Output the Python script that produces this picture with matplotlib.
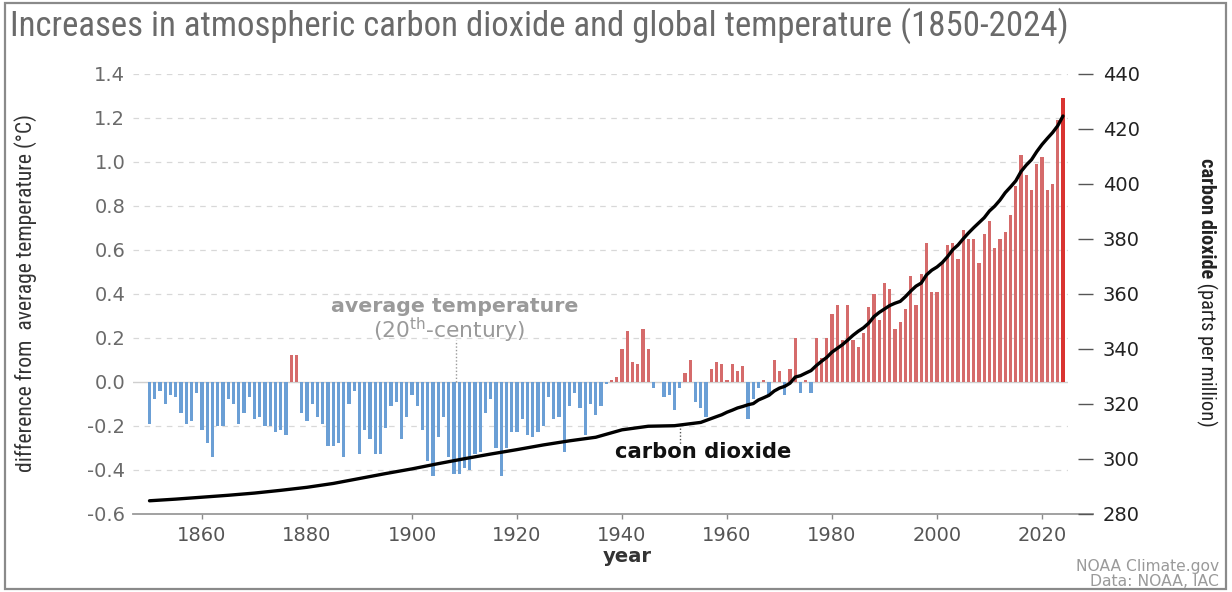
import matplotlib
matplotlib.use("Agg")
import matplotlib.pyplot as plt
from matplotlib import font_manager as fm
from matplotlib.lines import Line2D
from matplotlib.patches import Rectangle
import numpy as np

# ---------------- data ----------------
years = list(range(1850, 2025))
temp_anomaly = [
    -0.19, -0.08, -0.04, -0.10, -0.06, -0.07, -0.14, -0.19, -0.18, -0.05,   # 1850s
    -0.22, -0.28, -0.34, -0.20, -0.20, -0.08, -0.10, -0.19, -0.14, -0.07,   # 1860s
    -0.17, -0.16, -0.20, -0.20, -0.23, -0.22, -0.24, 0.12, 0.12, -0.14,     # 1870s
    -0.18, -0.10, -0.16, -0.19, -0.29, -0.29, -0.28, -0.34, -0.10, -0.04,   # 1880s
    -0.33, -0.22, -0.26, -0.33, -0.33, -0.21, -0.11, -0.09, -0.26, -0.16,   # 1890s
    -0.06, -0.11, -0.22, -0.36, -0.43, -0.25, -0.16, -0.34, -0.42, -0.42,   # 1900s
    -0.39, -0.40, -0.33, -0.32, -0.14, -0.08, -0.30, -0.43, -0.30, -0.23,   # 1910s
    -0.23, -0.17, -0.24, -0.25, -0.23, -0.20, -0.07, -0.17, -0.16, -0.32,   # 1920s
    -0.11, -0.05, -0.12, -0.24, -0.10, -0.15, -0.11, -0.01, 0.01, 0.02,     # 1930s
    0.15, 0.23, 0.09, 0.08, 0.24, 0.15, -0.03, 0.00, -0.07, -0.06,          # 1940s
    -0.13, -0.03, 0.04, 0.10, -0.09, -0.12, -0.16, 0.06, 0.09, 0.08,        # 1950s
    0.01, 0.08, 0.05, 0.07, -0.17, -0.08, -0.03, 0.01, -0.06, 0.10,         # 1960s
    0.05, -0.06, 0.06, 0.20, -0.05, 0.01, -0.05, 0.20, 0.11, 0.20,          # 1970s
    0.31, 0.35, 0.19, 0.35, 0.19, 0.16, 0.22, 0.34, 0.40, 0.28,             # 1980s
    0.45, 0.42, 0.24, 0.27, 0.33, 0.48, 0.35, 0.49, 0.63, 0.41,             # 1990s
    0.41, 0.54, 0.62, 0.63, 0.56, 0.69, 0.65, 0.65, 0.54, 0.67,             # 2000s
    0.73, 0.61, 0.65, 0.68, 0.76, 0.89, 1.03, 0.94, 0.87, 0.99,             # 2010s
    1.02, 0.87, 0.90, 1.19, 1.29,                                           # 2020-2024
]

co2_years = [1850, 1855, 1860, 1865, 1870, 1875, 1880, 1885, 1890, 1895,
             1900, 1905, 1910, 1915, 1920, 1925, 1930, 1935, 1940, 1945,
             1950, 1955, 1958] + list(range(1959, 2025))
co2_ppm = [284.7, 285.3, 286.0, 286.7, 287.5, 288.5, 289.6, 291.0, 292.8, 294.6,
           296.3, 298.2, 300.0, 301.7, 303.3, 305.0, 306.5, 307.8, 310.5, 311.8,
           312.0, 313.2, 315.3,
           315.98, 316.91, 317.64, 318.45, 318.99, 319.62, 320.04, 321.37, 322.18, 323.05,
           324.62, 325.68, 326.32, 327.46, 329.68, 330.19, 331.13, 332.03, 333.84, 335.41,
           336.84, 338.76, 340.12, 341.48, 343.15, 344.87, 346.35, 347.61, 349.31, 351.69,
           353.20, 354.45, 355.70, 356.54, 357.21, 358.96, 360.97, 362.74, 363.88, 366.84,
           368.54, 369.71, 371.32, 373.45, 375.98, 377.70, 379.98, 382.09, 384.02, 385.83,
           387.64, 390.10, 391.85, 394.06, 396.74, 398.81, 401.01, 404.41, 406.76, 408.72,
           411.66, 414.24, 416.45, 418.56, 421.08, 424.61]

temp_ticks = [-0.6, -0.4, -0.2, 0.0, 0.2, 0.4, 0.6, 0.8, 1.0, 1.2, 1.4]
co2_ticks = [280, 300, 320, 340, 360, 380, 400, 420, 440]
year_ticks = [1860, 1880, 1900, 1920, 1940, 1960, 1980, 2000, 2020]

title_text = "Increases in atmospheric carbon dioxide and global temperature (1850-2024)"
left_label = "difference from  average temperature (\u00b0C)"
right_label_bold = "carbon dioxide"
right_label_reg = " (parts per million)"
avg_label = "average temperature"
avg_sub = r"(20$^{\mathrm{th}}$-century)"
co2_label = "carbon dioxide"
x_label = "year"
credit1 = "NOAA Climate.gov"
credit2 = "Data: NOAA, IAC"
avg_leader_year = 1908.4
co2_leader_year = 1951.0

# ---------------- fonts ----------------
plt.rcParams["axes.unicode_minus"] = False
plt.rcParams["font.family"] = ["DejaVu Sans"]
plt.rcParams["lines.scale_dashes"] = False


def _w(f):
    w = f.weight
    if isinstance(w, str):
        w = fm.weight_dict.get(w, 400)
    return int(w)


def find_narrow(target_w, wmin, wmax):
    prefs = ["liberation sans narrow", "roboto condensed", "dejavu sans condensed",
             "dejavu sans", "open sans condensed", "open sans", "noto sans", "roboto"]
    best = None
    for f in fm.fontManager.ttflist:
        nm = f.name.lower()
        st = str(f.stretch).lower()
        cond = ("narrow" in nm) or ("condensed" in nm) or st in (
            "condensed", "semi-condensed", "extra-condensed")
        if not cond or f.style != "normal":
            continue
        w = _w(f)
        if w < wmin or w > wmax:
            continue
        rank = len(prefs)
        for i, p in enumerate(prefs):
            if nm.startswith(p):
                rank = i
                break
        key = (rank, abs(w - target_w))
        if best is None or key < best[0]:
            best = (key, f.fname)
    if best is None:
        return fm.FontProperties(family="DejaVu Sans",
                                 weight="bold" if target_w >= 600 else "normal")
    return fm.FontProperties(fname=best[1])


narrow_reg = find_narrow(400, 350, 500)
narrow_semi = find_narrow(600, 500, 800)

# ---------------- figure ----------------
W, H = 1232, 592
fig = plt.figure(figsize=(W / 100, H / 100), dpi=100)
fig.patch.set_facecolor("white")


def fx(x):
    return x / W


def fy(y):
    return 1 - y / H


AX_L, AX_R, AX_T, AX_B = 133, 1068, 73.7, 513.7
ax = fig.add_axes([fx(AX_L), fy(AX_B), (AX_R - AX_L) / W, (AX_B - AX_T) / H])
px_per_year = 5.25
x_first = 149.5
ax.set_xlim(1850 - (x_first - AX_L) / px_per_year, 1850 + (AX_R - x_first) / px_per_year)
ax.set_ylim(-0.6, 1.4)
ax.patch.set_alpha(0)

for s in ax.spines.values():
    s.set_visible(False)

# grid lines
for v in temp_ticks:
    if abs(v) < 1e-9 or v < -0.55:
        continue
    ax.axhline(v, color="#d8d8d8", lw=0.9, dashes=(4, 4), zorder=0)
ax.axhline(0, color="#cfcfcf", lw=1.0, zorder=1)

# bars
colors = []
for y_, v in zip(years, temp_anomaly):
    if y_ == years[-1]:
        colors.append("#d93431")
    elif v >= 0:
        colors.append("#d56b6b")
    else:
        colors.append("#6b9fd5")
ax.bar(years, temp_anomaly, width=0.64, color=colors, linewidth=0, zorder=2)

# bottom baseline (extends under right tick)
ax.add_line(Line2D([0, (1093 - AX_L) / (AX_R - AX_L)], [0, 0], transform=ax.transAxes,
                   color="#9a9a9a", lw=1.3, clip_on=False, zorder=3))

ax.set_yticks(temp_ticks)
ax.set_yticklabels([f"{v:.1f}" for v in temp_ticks])
ax.tick_params(axis="y", length=0, pad=5.5, labelsize=14, labelcolor="#6a6a6a")
ax.set_xticks(year_ticks)
ax.set_xticklabels([str(y) for y in year_ticks])
ax.tick_params(axis="x", length=3.5, width=1, color="#8a8a8a", pad=5,
               labelsize=14, labelcolor="#555555")

# CO2 axis
ax2 = ax.twinx()
ax2.set_ylim(280, 440)
for s in ax2.spines.values():
    s.set_visible(False)
ax2.spines["right"].set_position(("outward", 7.2))
ax2.set_yticks(co2_ticks)
ax2.set_yticklabels([str(v) for v in co2_ticks])
ax2.tick_params(axis="y", length=10.8, width=1, color="#555555", pad=7,
                labelsize=14, labelcolor="#222222")
ax2.plot(co2_years, co2_ppm, color="black", lw=2.4, zorder=4,
         solid_joinstyle="round", solid_capstyle="round")

# leader lines
ax.plot([avg_leader_year, avg_leader_year], [0.0, 0.19], color="#999999", lw=1.0,
        dashes=(1, 1.5), zorder=3)
ax2.plot([co2_leader_year, co2_leader_year], [311.0, 305.0], color="#555555", lw=1.0,
         dashes=(1, 1.5), zorder=3)

renderer = fig.canvas.get_renderer()


def fit(t, target, vertical=False):
    for _ in range(3):
        bb = t.get_window_extent(renderer)
        cur = bb.height if vertical else bb.width
        if cur > 0:
            t.set_fontsize(t.get_fontsize() * target / cur)


# title
t = fig.text(fx(10), fy(36), title_text, ha="left", va="baseline", color="#6a6a6a",
             fontproperties=narrow_reg, fontsize=24)
fit(t, 1058)

# left y label
t = fig.text(fx(26), fy(293.5), left_label, rotation=90, ha="center", va="center",
             color="#333333", fontproperties=narrow_reg, fontsize=16)
fit(t, 357, vertical=True)

# right y label: semibold + regular pieces, same size, total length fitted
RX = 1201
TOP = 158
rb = fig.text(fx(RX), fy(TOP), right_label_bold, rotation=-90, rotation_mode="anchor",
              ha="left", va="baseline", color="#222222", fontproperties=narrow_semi,
              fontsize=16)
rr = fig.text(fx(RX), fy(TOP), right_label_reg, rotation=-90, rotation_mode="anchor",
              ha="left", va="baseline", color="#222222", fontproperties=narrow_reg,
              fontsize=16)
for _ in range(3):
    hb = rb.get_window_extent(renderer).height
    hr = rr.get_window_extent(renderer).height
    sc = 269 / (hb + hr)
    rb.set_fontsize(rb.get_fontsize() * sc)
    rr.set_fontsize(rr.get_fontsize() * sc)
hb = rb.get_window_extent(renderer).height
rr.set_position((fx(RX), fy(TOP + hb)))

# annotations
t = fig.text(fx(455), fy(307), avg_label, ha="center", va="center", color="#9a9a9a",
             fontweight="bold", fontsize=14)
fit(t, 247)
t = fig.text(fx(449), fy(330), avg_sub, ha="center", va="center", color="#9a9a9a",
             fontsize=14)
fit(t, 152)
t = fig.text(fx(703), fy(452), co2_label, ha="center", va="center", color="#111111",
             fontweight="bold", fontsize=14)
fit(t, 176)
t = fig.text(fx(627), fy(557), x_label, ha="center", va="center", color="#333333",
             fontweight="bold", fontsize=14)
fit(t, 49)

# credits
t = fig.text(fx(1219), fy(567), credit1, ha="right", va="center", color="#9a9a9a", fontsize=12)
fit(t, 143)
t = fig.text(fx(1219), fy(582), credit2, ha="right", va="center", color="#9a9a9a", fontsize=12)
fit(t, 128)

# outer border
fig.add_artist(Rectangle((fx(5), fy(589)), (1226 - 5) / W, (589 - 3) / H,
                         transform=fig.transFigure, fill=False, edgecolor="#8a8a8a", lw=1.6))

fig.savefig("out.png", dpi=100, facecolor="white")
